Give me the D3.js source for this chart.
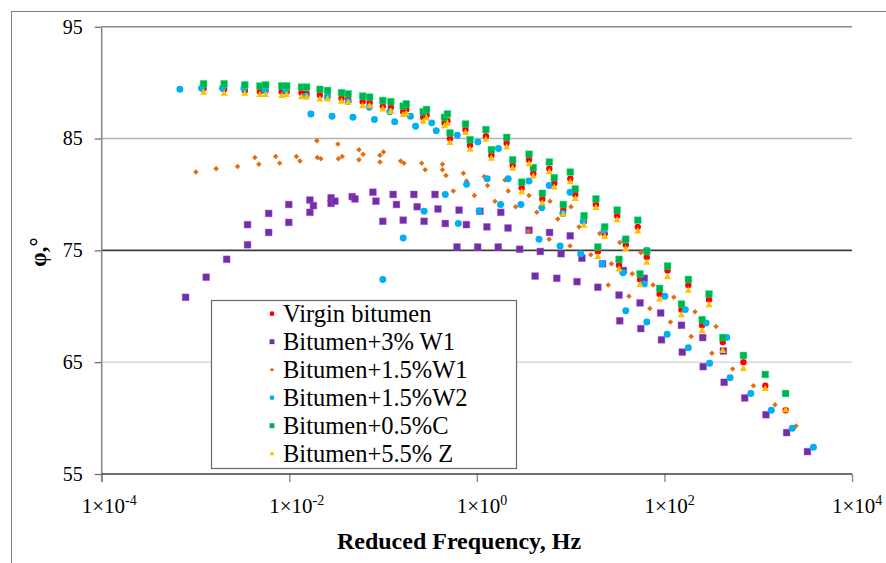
<!DOCTYPE html>
<html>
<head>
<meta charset="utf-8">
<script src="https://cdn.jsdelivr.net/npm/d3@7"></script>
<style>
body { margin: 0; background: #fff; }
</style>
</head>
<body>
<script>
// reduced frequency (Hz) shared by virgin, +0.5%C and +5.5% Z (they sit almost on top of each other)
const freqVCZ = [1.22e-3, 2.02e-3, 3.36e-3, 4.86e-3, 5.60e-3, 8.30e-3, 9.39e-3, 1.35e-2, 1.53e-2, 2.12e-2,
  2.56e-2, 3.61e-2, 4.25e-2, 6.06e-2, 7.19e-2, 9.94e-2, 0.121, 0.164, 0.177, 0.268,
  0.291, 0.452, 0.486, 0.517, 0.757, 0.846, 1.25, 1.43, 2.08, 2.41,
  3.01, 3.60, 4.00, 4.99, 5.93, 6.69, 8.35, 9.92, 11.2, 13.9,
  18.6, 19.5, 23.1, 31.3, 32.8, 38.7, 52.0, 55.0, 64.9, 88.9,
  108, 152, 180, 252, 299, 419, 696, 1190, 1960];
const phiVirgin = [89.5, 89.4, 89.3, 89.2, 89.3, 89.2, 89.2, 89.1, 89.0, 88.9,
  88.8, 88.6, 88.5, 88.3, 88.2, 87.9, 87.8, 87.4, 87.6, 86.9,
  87.1, 86.4, 86.6, 85.0, 85.8, 84.4, 85.2, 83.5, 84.6, 82.6,
  80.6, 83.1, 81.9, 79.6, 82.3, 81.0, 78.6, 81.4, 80.0, 77.6,
  79.1, 74.9, 76.5, 78.1, 73.7, 75.5, 77.1, 72.4, 74.4, 71.1,
  73.2, 69.7, 71.9, 68.3, 70.6, 66.8, 65.0, 62.9, 60.7];
const phiC = [89.9, 89.9, 89.8, 89.7, 89.8, 89.7, 89.7, 89.6, 89.6, 89.4,
  89.3, 89.1, 89.0, 88.8, 88.7, 88.4, 88.3, 87.9, 88.1, 87.4,
  87.6, 86.9, 87.2, 85.5, 86.3, 84.9, 85.8, 84.0, 85.1, 83.1,
  81.1, 83.6, 82.4, 80.1, 82.9, 81.5, 79.1, 82.0, 80.5, 78.1,
  79.6, 75.3, 77.1, 78.6, 74.2, 76.0, 77.7, 72.9, 74.9, 71.6,
  73.6, 70.2, 72.4, 68.8, 71.1, 67.2, 65.6, 63.9, 62.2];
const phiZ = [89.1, 89.0, 89.0, 88.9, 88.9, 88.8, 88.9, 88.7, 88.7, 88.5,
  88.5, 88.3, 88.2, 87.9, 87.9, 87.6, 87.4, 87.1, 87.2, 86.5,
  86.8, 86.1, 86.3, 84.6, 85.5, 84.0, 84.9, 83.2, 84.2, 82.3,
  80.2, 82.7, 81.6, 79.2, 82.0, 80.6, 78.2, 81.1, 79.6, 77.2,
  78.8, 74.4, 76.2, 77.7, 73.3, 75.1, 76.7, 71.9, 73.9, 70.6,
  72.6, 69.2, 71.4, 67.8, 70.1, 66.0, 64.4, 62.6, 60.7];

// Bitumen+3% W1
const freqW1a = [7.85e-4, 1.30e-3, 2.15e-3, 3.59e-3, 6.03e-3, 9.88e-3, 1.66e-2, 2.79e-2, 4.69e-2, 7.80e-2,
  3.59e-3, 6.03e-3, 9.88e-3, 1.66e-2, 2.79e-2, 0.128, 0.213, 0.358,
  1.81e-2, 3.07e-2, 5.02e-2, 8.40e-2, 0.139, 0.231, 0.385, 0.646, 1.08, 1.80,
  9.94e-2, 0.164, 0.274, 0.461, 0.774, 1.28, 2.15, 3.60, 5.96, 9.90,
  0.614, 1.02, 1.69, 2.86, 4.75, 7.91, 13.2, 21.9, 36.4, 61.0,
  4.18, 7.12, 11.7, 19.5, 32.8, 55.0, 91.2, 152, 256, 425,
  33.4, 56.0, 93.0, 155, 259, 433, 718, 1210, 2010, 3350];
const phiW1a = [70.8, 72.6, 74.2, 75.5, 76.6, 77.5, 78.4, 79.2, 79.8, 80.2,
  77.3, 78.3, 79.1, 79.5, 79.7, 80.0, 80.0, 80.0,
  79.0, 79.4, 79.6, 79.4, 79.1, 78.9, 78.7, 78.6, 78.5, 78.4,
  77.6, 77.7, 77.6, 77.4, 77.3, 77.1, 77.0, 76.8, 76.6, 76.3,
  75.3, 75.3, 75.3, 75.1, 74.9, 74.7, 74.3, 73.8, 73.2, 72.5,
  72.7, 72.5, 72.2, 71.7, 71.0, 70.3, 69.4, 68.3, 67.2, 66.0,
  68.7, 68.0, 67.0, 65.9, 64.6, 63.2, 61.8, 60.3, 58.7, 57.0];

// Bitumen+1.5%W1
const freqW1b = [1.01e-3, 1.66e-3, 2.81e-3, 4.30e-3, 4.74e-3, 7.16e-3, 7.90e-3, 1.19e-2, 1.30e-2, 1.97e-2,
  1.99e-2, 2.17e-2, 3.30e-2, 3.34e-2, 3.67e-2, 5.54e-2, 6.13e-2, 5.54e-2, 9.26e-2, 0.101,
  9.26e-2, 0.154, 0.167, 0.258, 0.281, 0.430, 0.430, 0.468, 0.718, 0.777,
  1.20, 1.30, 1.99, 2.16, 3.60, 6.03, 10.1,
  0.561, 0.941, 1.56, 2.59, 4.35, 7.29, 12.3, 20.4, 33.4, 56.1,
  3.54, 5.90, 9.87, 16.4, 27.2, 45.4, 75.7, 126, 212, 355,
  25.2, 41.9, 70.0, 116, 193, 321, 534, 889, 1510, 2530];
const phiW1b = [82.0, 82.3, 82.5, 83.3, 82.7, 83.4, 82.8, 83.4, 83.0, 84.8,
  83.3, 83.2, 84.5, 83.2, 83.4, 84.0, 83.6, 83.1, 83.5, 83.8,
  82.9, 83.0, 82.8, 82.8, 82.2, 82.7, 82.2, 81.7, 81.9, 81.2,
  81.6, 80.8, 81.3, 80.3, 79.9, 79.4, 78.9,
  80.3, 79.9, 79.4, 78.9, 78.4, 77.8, 77.1, 76.5, 75.7, 74.8,
  76.7, 76.0, 75.4, 74.6, 73.8, 72.9, 71.9, 70.8, 69.5, 68.2,
  71.9, 70.9, 69.8, 68.6, 67.3, 65.8, 64.4, 62.9, 61.2, 59.3];

// Bitumen+1.5%W2
const freqW2 = [6.82e-4, 1.16e-3, 1.94e-3, 3.28e-3, 5.50e-3, 9.12e-3, 1.51e-2, 2.54e-2, 4.25e-2, 7.12e-2, 0.118, 0.196, 0.330,
  1.70e-2, 2.86e-2, 4.78e-2, 8.09e-2, 0.133, 0.222, 0.369, 0.619, 1.025, 1.70,
  9.94e-2, 0.164, 0.274, 0.461, 0.777, 1.29, 2.16, 3.60, 5.90, 9.87,
  0.635, 1.06, 1.79, 2.95, 4.92, 8.25, 13.6, 22.7, 38.0, 64.9,
  4.60, 7.72, 12.8, 21.7, 36.2, 61.0, 101, 167, 278, 462,
  38.7, 64.9, 107, 180, 303, 501, 835, 1380, 2310, 3880];
const phiW2 = [89.4, 89.5, 89.5, 89.5, 89.3, 89.3, 88.8, 88.7, 88.3, 87.8, 87.4, 87.0, 86.4,
  87.2, 87.0, 86.9, 86.7, 86.5, 86.1, 85.7, 85.3, 84.7, 84.1,
  72.4, 76.1, 78.5, 80.0, 80.9, 81.4, 81.4, 81.2, 80.8, 80.2,
  77.4, 78.5, 79.1, 79.1, 78.8, 78.3, 77.6, 76.8, 75.9, 75.0,
  76.0, 75.4, 74.7, 73.8, 73.0, 72.0, 70.9, 69.7, 68.5, 67.2,
  69.6, 68.6, 67.5, 66.3, 64.9, 63.6, 62.2, 60.7, 59.1, 57.4];

const xTicks = [1e-4, 1e-2, 1, 1e2, 1e4];
const yTicks = [55, 65, 75, 85, 95];
const seriesNames = ["Virgin bitumen", "Bitumen+3% W1", "Bitumen+1.5%W1", "Bitumen+1.5%W2", "Bitumen+0.5%C", "Bitumen+5.5% Z"];

const series = [
  { name: seriesNames[0], f: freqVCZ, p: phiVirgin, color: "#FF0000", shape: "circle", size: 32, lsize: 18 },
  { name: seriesNames[1], f: freqW1a, p: phiW1a, color: "#7030A0", shape: "square", size: 46, lsize: 24 },
  { name: seriesNames[2], f: freqW1b, p: phiW1b, color: "#E46C0A", shape: "diamond", size: 15, lsize: 9 },
  { name: seriesNames[3], f: freqW2, p: phiW2, color: "#00B0F0", shape: "circle", size: 38, lsize: 18 },
  { name: seriesNames[4], f: freqVCZ, p: phiC, color: "#00B050", shape: "square", size: 46, lsize: 24 },
  { name: seriesNames[5], f: freqVCZ, p: phiZ, color: "#FFC000", shape: "triangle", size: 22, lsize: 12 }
];

const serif = "'Liberation Serif', 'Times New Roman', Times, serif";
const width = 886, height = 563;
const svg = d3.select("body").append("svg").attr("width", width).attr("height", height)
  .style("font-family", serif);

// outer chart frame
svg.append("rect").attr("x", 11.5).attr("y", 11.5).attr("width", 900).attr("height", 600)
  .attr("fill", "#fff").attr("stroke", "#808080");

const x = d3.scaleLog().domain([1e-4, 1e4]).range([101.7, 852]);
const y = d3.scaleLinear().domain([55, 95]).range([474, 26.7]);

// horizontal gridlines (excel picture has them in different greys)
const gridColor = { 95: "#8a8a8a", 85: "#b4b4b4", 75: "#3c3c3c", 65: "#d9d9d9" };
svg.append("g").selectAll("line").data(yTicks.filter(d => d > 55)).join("line")
  .attr("x1", x(1e-4)).attr("x2", x(1e4))
  .attr("y1", d => y(d)).attr("y2", d => y(d))
  .attr("stroke", d => gridColor[d]).attr("stroke-width", 1.6);

// y axis
const yAxis = svg.append("g").attr("transform", "translate(" + x(1e-4) + ",0)")
  .call(d3.axisLeft(y).tickValues(yTicks).tickSize(7).tickPadding(12).tickFormat(d3.format("d")));
yAxis.attr("font-family", null).attr("font-size", null);
yAxis.select(".domain").remove();
yAxis.selectAll(".tick line").attr("stroke", "#666").attr("stroke-width", 1.2);
yAxis.selectAll(".tick text").attr("font-size", 20).attr("fill", "#000").style("font-family", serif);

svg.append("line").attr("x1", x(1e-4)).attr("x2", x(1e-4)).attr("y1", y(95)).attr("y2", y(55) + 8)
  .attr("stroke", "#8a8a8a").attr("stroke-width", 1.6);

// x axis
const xAxis = svg.append("g").attr("transform", "translate(0," + y(55) + ")")
  .call(d3.axisBottom(x).tickValues(xTicks).tickSize(8).tickFormat(""));
xAxis.select(".domain").remove();
xAxis.selectAll(".tick line").attr("stroke", "#8a8a8a").attr("stroke-width", 1.4);
svg.append("line").attr("x1", x(1e-4)).attr("x2", x(1e4)).attr("y1", y(55)).attr("y2", y(55))
  .attr("stroke", "#404040").attr("stroke-width", 1.6);

const xl = svg.append("g").selectAll("text").data(xTicks).join("text")
  .attr("x", d => x(d) - 20).attr("y", 513).attr("font-size", 21).style("font-family", serif);
xl.append("tspan").text("1×10");
xl.append("tspan").attr("dy", -8).attr("font-size", 14).text(d => Math.round(Math.log10(d)));

// axis titles
svg.append("text").attr("x", 459).attr("y", 549).attr("text-anchor", "middle").style("font-family", serif)
  .attr("font-size", 24).attr("font-weight", "bold").text("Reduced Frequency, Hz");
svg.append("text").attr("transform", "translate(46,252) rotate(-90)").attr("text-anchor", "middle").style("font-family", serif)
  .attr("font-size", 23).attr("font-weight", "bold").text("φ,°");

function markerPath(shape, size) {
  const t = shape === "circle" ? d3.symbolCircle : shape === "triangle" ? d3.symbolTriangle : d3.symbolSquare;
  return d3.symbol().type(t).size(size)();
}

// points
const plot = svg.append("g");
series.forEach(s => {
  const pts = s.f.map((f, i) => ({ f: f, p: s.p[i] }));
  plot.append("g").selectAll("path").data(pts).join("path")
    .attr("d", markerPath(s.shape, s.size))
    .attr("transform", d => "translate(" + x(d.f) + "," + y(d.p) + ")" + (s.shape === "diamond" ? " rotate(45)" : ""))
    .attr("fill", s.color)
    .attr("stroke", s.shape === "square" ? d3.color(s.color).brighter(1.2) : "none")
    .attr("stroke-opacity", 0.45)
    .attr("stroke-width", 1);
});

// legend
const lg = svg.append("g");
lg.append("rect").attr("x", 211.5).attr("y", 300.5).attr("width", 305).attr("height", 168)
  .attr("fill", "#fff").attr("stroke", "#6a6a6a").attr("stroke-width", 1.2);
const items = lg.selectAll("g.item").data(series).join("g").attr("class", "item")
  .attr("transform", (d, i) => "translate(0," + (321.7 + i * 28) + ")");
items.append("path")
  .attr("d", d => markerPath(d.shape, d.lsize))
  .attr("transform", d => "translate(272,-8)" + (d.shape === "diamond" ? " rotate(45)" : ""))
  .attr("fill", d => d.color);
items.append("text").attr("x", 283).attr("y", 0).attr("font-size", 24.5).style("font-family", serif).text(d => d.name);
</script>
</body>
</html>
